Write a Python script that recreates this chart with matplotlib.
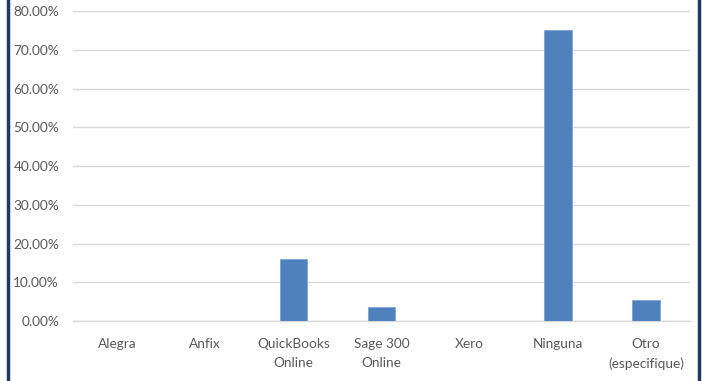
import matplotlib
matplotlib.use("Agg")
import matplotlib.pyplot as plt
from matplotlib.ticker import FuncFormatter, MultipleLocator
from matplotlib.lines import Line2D

categories = ["Alegra", "Anfix", "QuickBooks\nOnline", "Sage 300\nOnline", "Xero", "Ninguna", "Otro\n(especifique)"]
values = [0.0, 0.0, 9/56*100, 2/56*100, 0.0, 42/56*100, 3/56*100]

plt.rcParams['font.family'] = ['Lato', 'DejaVu Sans']

fig = plt.figure(figsize=(7.02, 3.81), dpi=100)
ax = fig.add_axes([0.104, 0.1575, 0.879, 0.8135])

x = range(len(categories))
ax.bar(x, values, width=0.31, color="#4F81BD", edgecolor="#7FA6D6", linewidth=0.6, zorder=3)

ax.set_ylim(0, 80)
ax.set_xlim(-0.5, len(categories) - 0.5)
ax.yaxis.set_major_locator(MultipleLocator(10))
ax.yaxis.set_major_formatter(FuncFormatter(lambda v, p: f"{v:.2f}%"))
ax.grid(axis="y", color="#D9D9D9", linewidth=1.0, zorder=0)
ax.set_axisbelow(True)
for s in ["top", "right", "left"]:
    ax.spines[s].set_visible(False)
ax.spines["bottom"].set_color("#D9D9D9")
ax.spines["bottom"].set_linewidth(1.0)
ax.tick_params(axis="both", length=0, labelsize=9.8, labelcolor="#595959")
ax.tick_params(axis="y", pad=10)
ax.tick_params(axis="x", pad=12)
ax.set_xticks(list(x))
ax.set_xticklabels(categories, linespacing=1.75)

# dark blue frame edges
fig.add_artist(Line2D([7.5/702, 7.5/702], [0, 1], transform=fig.transFigure, color="#1F3864", linewidth=2.5))
fig.add_artist(Line2D([698.5/702, 698.5/702], [0, 1], transform=fig.transFigure, color="#1F3864", linewidth=2.5))

fig.savefig("out.png", dpi=100)
